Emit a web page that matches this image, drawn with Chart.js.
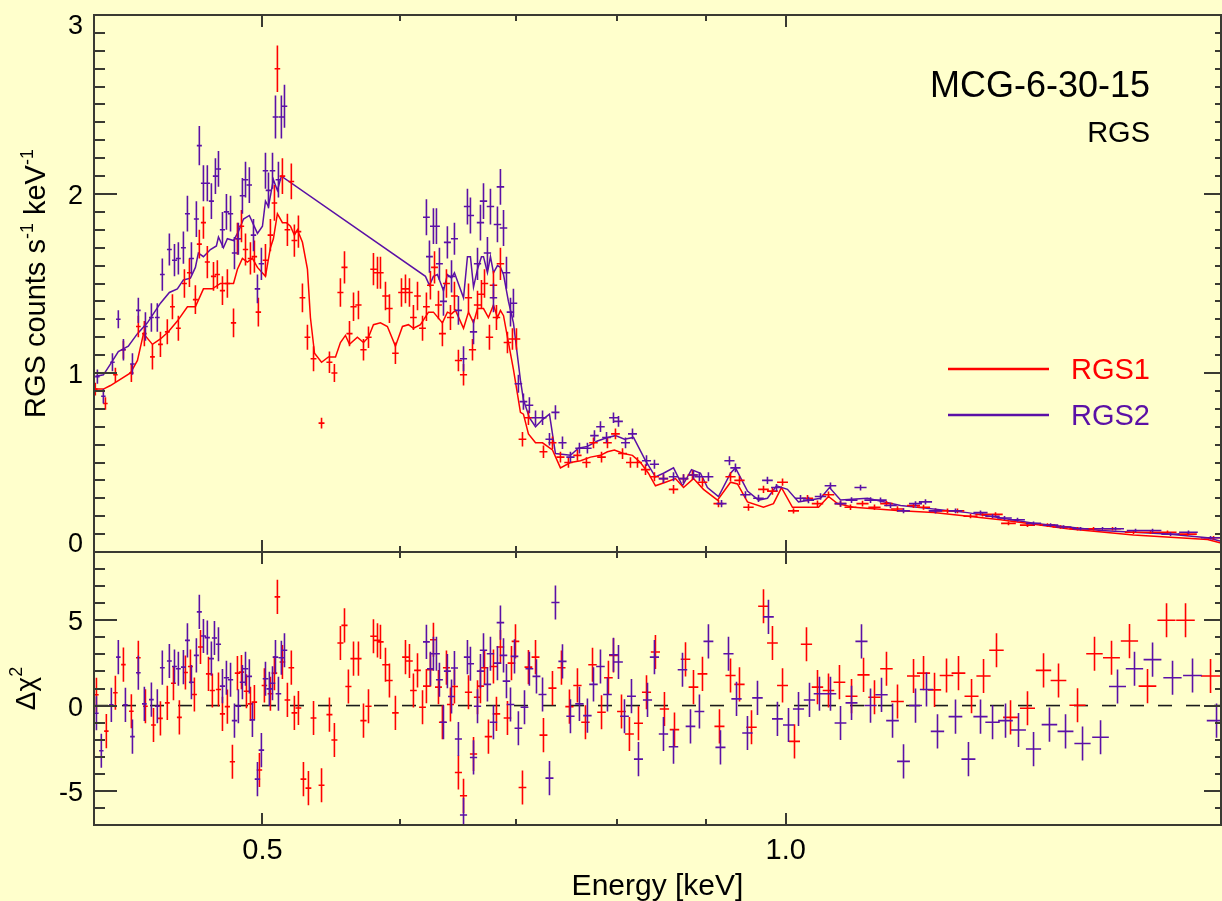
<!DOCTYPE html>
<html><head><meta charset="utf-8">
<script src="https://cdn.jsdelivr.net/npm/chart.js@4.4.1/dist/chart.umd.min.js"></script>
<style>
html,body{margin:0;padding:0;background:#ffffcc;width:1222px;height:901px;overflow:hidden}
canvas{position:absolute;left:0;top:0}
</style></head><body>
<canvas id="top" width="1222" height="901"></canvas>
<canvas id="bot" width="1222" height="901"></canvas>
<script>
// ---------------- data (energy keV, value, 1-sigma error) ----------------
const TITLE = 'MCG-6-30-15';
const SUBTITLE = 'RGS';
const X_MIN = 0.40, X_MAX = 1.78;
const X_MAJOR = [0.5, 1.0];
const X_MINOR = [0.6, 0.7, 0.8, 0.9];
const TOP_Y_LABELS = [0, 1, 2, 3];
const BOT_Y_LABELS = [-5, 0, 5];
const HALF_BIN_A = 0.09;   // half bin width in Angstrom
const HC = 12.398;         // keV*Angstrom
const RESID_ERR = 1;       // residuals are in units of sigma

const RGS1_DATA = [
[0.4007,0.91,0.035],[0.4061,0.83,0.035],[0.4115,0.99,0.04],[0.4159,1.13,0.05],[0.4203,1.00,0.05],
[0.4242,1.26,0.06],[0.4276,1.22,0.07],[0.4322,1.09,0.07],[0.4368,1.16,0.07],[0.4408,1.23,0.07],
[0.4438,1.37,0.07],[0.4473,1.25,0.07],[0.4509,1.50,0.08],[0.4539,1.56,0.08],[0.4575,1.41,0.08],
[0.4599,1.72,0.08],[0.4624,1.84,0.09],[0.4648,1.62,0.09],[0.4686,1.54,0.08],[0.4710,1.55,0.08],
[0.4742,1.46,0.08],[0.4773,1.50,0.08],[0.4812,1.28,0.08],[0.4837,1.75,0.09],[0.4863,1.82,0.09],
[0.4889,1.69,0.09],[0.4921,1.64,0.09],[0.4947,1.65,0.09],[0.4973,1.34,0.08],[0.5020,1.63,0.09],
[0.5053,1.77,0.09],[0.5080,1.95,0.10],[0.5100,2.70,0.13],[0.5134,2.10,0.10],[0.5168,1.80,0.09],
[0.5195,2.07,0.10],[0.5216,1.74,0.09],[0.5244,1.79,0.09],[0.5272,1.42,0.08],[0.5307,1.20,0.07],
[0.5350,1.08,0.07],[0.5407,0.72,0.03],[0.5464,1.06,0.06],[0.5500,1.00,0.05],[0.5544,1.45,0.08],
[0.5574,1.59,0.09],[0.5611,1.22,0.07],[0.5641,1.37,0.08],[0.5678,1.38,0.08],[0.5716,1.13,0.06],
[0.5754,1.20,0.06],[0.5792,1.58,0.09],[0.5823,1.56,0.09],[0.5846,1.56,0.09],[0.5885,1.43,0.08],
[0.5916,1.36,0.08],[0.5963,1.11,0.06],[0.6011,1.45,0.08],[0.6043,1.47,0.08],[0.6075,1.45,0.08],
[0.6107,1.31,0.07],[0.6140,1.43,0.08],[0.6181,1.25,0.07],[0.6213,1.37,0.08],[0.6246,1.49,0.08],
[0.6280,1.59,0.09],[0.6313,1.38,0.08],[0.6346,1.22,0.07],[0.6380,1.50,0.08],[0.6414,1.31,0.07],
[0.6448,1.43,0.08],[0.6482,1.07,0.06],[0.6526,0.99,0.06],[0.6569,1.42,0.08],[0.6604,1.13,0.06],
[0.6648,1.38,0.08],[0.6683,1.44,0.08],[0.6710,1.50,0.08],[0.6754,1.20,0.07],[0.6790,1.49,0.08],
[0.6817,1.31,0.07],[0.6853,1.61,0.09],[0.6917,1.17,0.06],[0.6963,1.19,0.06],[0.7000,1.19,0.06],
[0.7056,0.63,0.04],[0.7112,0.75,0.04],[0.7255,0.56,0.035],[0.7342,0.61,0.035],[0.7420,0.53,0.03],
[0.7499,0.50,0.03],[0.7589,0.54,0.03],[0.7680,0.50,0.03],[0.7752,0.61,0.03],[0.7835,0.53,0.03],
[0.7897,0.61,0.03],[0.7981,0.66,0.03],[0.8056,0.55,0.03],[0.8141,0.50,0.03],[0.8217,0.50,0.03],
[0.8305,0.46,0.03],[0.8404,0.42,0.025],[0.8505,0.41,0.025],[0.8619,0.35,0.025],[0.8734,0.41,0.025],
[0.8838,0.43,0.025],[0.8956,0.39,0.025],[0.9148,0.27,0.02],[0.9295,0.42,0.025],[0.9406,0.40,0.025],
[0.9519,0.25,0.02],[0.9710,0.35,0.02],[0.9826,0.34,0.02],[0.9958,0.39,0.02],[1.0104,0.23,0.015],
[1.0293,0.30,0.018],[1.0430,0.27,0.018],[1.0583,0.32,0.018],[1.0753,0.27,0.017],[1.0896,0.25,0.016],
[1.1071,0.27,0.016],[1.1248,0.25,0.015],[1.1428,0.27,0.015],[1.1596,0.24,0.015],[1.1845,0.26,0.014],
[1.2003,0.25,0.014],[1.2195,0.23,0.013],[1.2390,0.23,0.013],[1.2555,0.23,0.013],[1.2774,0.20,0.012],
[1.2979,0.21,0.012],[1.3204,0.21,0.012],[1.3433,0.16,0.011],[1.3775,0.15,0.011],[1.4145,0.15,0.01],
[1.4391,0.14,0.01],[1.4719,0.13,0.01],[1.5035,0.13,0.01],[1.5418,0.13,0.01],[1.5853,0.11,0.01],
[1.6214,0.11,0.01],[1.6582,0.11,0.01],[1.7028,0.10,0.01],[1.7625,0.08,0.01]
];

const RGS2_DATA = [
[0.4018,0.98,0.04],[0.4050,0.87,0.04],[0.4099,1.06,0.05],[0.4131,1.30,0.05],[0.4159,1.13,0.06],
[0.4209,1.05,0.06],[0.4242,1.35,0.07],[0.4282,1.26,0.08],[0.4316,1.31,0.08],[0.4350,1.31,0.08],
[0.4379,1.55,0.09],[0.4420,1.69,0.09],[0.4450,1.63,0.09],[0.4473,1.64,0.09],[0.4503,1.70,0.09],
[0.4527,1.89,0.10],[0.4551,1.64,0.09],[0.4581,1.86,0.10],[0.4599,2.27,0.11],[0.4624,2.06,0.10],
[0.4648,2.06,0.10],[0.4673,1.96,0.10],[0.4698,2.10,0.10],[0.4717,2.14,0.10],[0.4742,1.80,0.10],
[0.4767,1.90,0.10],[0.4793,1.89,0.10],[0.4818,1.67,0.09],[0.4843,1.75,0.09],[0.4869,1.99,0.10],
[0.4889,2.08,0.10],[0.4914,2.05,0.10],[0.4941,1.77,0.09],[0.4967,1.47,0.08],[0.4993,1.61,0.09],
[0.5020,2.13,0.10],[0.5040,2.02,0.10],[0.5067,2.13,0.10],[0.5087,2.43,0.12],[0.5107,2.08,0.10],
[0.5127,2.43,0.12],[0.5148,2.49,0.12],
[0.6213,1.87,0.10],[0.6238,1.65,0.09],[0.6271,1.82,0.10],[0.6296,1.82,0.10],[0.6321,1.61,0.09],
[0.6355,1.40,0.08],[0.6388,1.73,0.09],[0.6423,1.54,0.09],[0.6448,1.75,0.09],[0.6482,1.35,0.08],
[0.6526,1.08,0.07],[0.6560,1.93,0.10],[0.6586,1.88,0.10],[0.6613,1.23,0.07],[0.6648,1.61,0.09],
[0.6674,1.84,0.10],[0.6701,1.96,0.10],[0.6736,1.67,0.09],[0.6763,1.93,0.10],[0.6790,1.42,0.08],
[0.6826,1.83,0.10],[0.6853,2.04,0.10],[0.6881,1.81,0.10],[0.6908,1.56,0.09],[0.6945,1.34,0.08],
[0.6972,1.39,0.08],[0.7018,0.94,0.05],[0.7065,0.84,0.045],[0.7121,0.82,0.045],[0.7179,0.75,0.04],
[0.7246,0.75,0.04],[0.7313,0.63,0.035],[0.7371,0.78,0.04],[0.7440,0.61,0.035],[0.7519,0.53,0.03],
[0.7609,0.58,0.03],[0.7690,0.58,0.03],[0.7762,0.65,0.03],[0.7824,0.70,0.03],[0.7887,0.64,0.03],
[0.7960,0.75,0.03],[0.8013,0.73,0.03],[0.8088,0.61,0.03],[0.8163,0.66,0.03],[0.8316,0.51,0.03],
[0.8404,0.49,0.025],[0.8505,0.41,0.025],[0.8619,0.42,0.025],[0.8734,0.41,0.025],[0.8850,0.43,0.025],
[0.8920,0.42,0.025],[0.9027,0.42,0.025],[0.9185,0.27,0.02],[0.9282,0.51,0.025],[0.9356,0.47,0.025],
[0.9481,0.32,0.02],[0.9646,0.30,0.02],[0.9761,0.40,0.02],[0.9879,0.36,0.02],[1.0198,0.30,0.018],
[1.0306,0.29,0.018],[1.0472,0.31,0.018],[1.0611,0.37,0.018],[1.0753,0.27,0.017],[1.0911,0.29,0.016],
[1.1042,0.36,0.016],[1.1189,0.29,0.016],[1.1338,0.29,0.015],[1.1489,0.26,0.015],[1.1689,0.23,0.014],
[1.1876,0.27,0.014],[1.2034,0.28,0.014],[1.2195,0.23,0.013],[1.2522,0.23,0.013],[1.2944,0.22,0.012],
[1.3152,0.20,0.012],[1.3362,0.19,0.011],[1.3594,0.18,0.011],[1.3886,0.16,0.011],[1.4202,0.15,0.01],
[1.4449,0.14,0.01],[1.4778,0.13,0.01],[1.5215,0.13,0.01],[1.5479,0.13,0.01],[1.5895,0.12,0.01],
[1.6257,0.12,0.01],[1.6649,0.10,0.01],[1.7050,0.11,0.01],[1.7555,0.08,0.01]
];

const RGS1_MODEL = [
[0.4000,0.91],[0.4050,0.91],[0.4088,0.93],[0.4198,1.00],[0.4237,1.07],[0.4271,1.22],[0.4322,1.16],
[0.4368,1.19],[0.4414,1.23],[0.4467,1.29],[0.4527,1.37],[0.4575,1.37],[0.4624,1.47],[0.4679,1.47],
[0.4729,1.50],[0.4773,1.50],[0.4812,1.50],[0.4837,1.58],[0.4869,1.64],[0.4901,1.62],[0.4934,1.64],
[0.4967,1.59],[0.5020,1.54],[0.5053,1.70],[0.5073,1.75],[0.5100,1.89],[0.5134,1.84],[0.5161,1.84],
[0.5189,1.82],[0.5216,1.77],[0.5237,1.80],[0.5272,1.73],[0.5307,1.58],[0.5328,1.31],[0.5357,1.11],
[0.5407,1.06],[0.5457,1.09],[0.5508,1.09],[0.5544,1.17],[0.5581,1.21],[0.5611,1.16],[0.5670,1.20],
[0.5716,1.17],[0.5754,1.20],[0.5792,1.27],[0.5846,1.28],[0.5900,1.26],[0.5963,1.15],[0.6019,1.26],
[0.6067,1.27],[0.6107,1.25],[0.6164,1.27],[0.6230,1.34],[0.6271,1.34],[0.6346,1.28],[0.6388,1.34],
[0.6423,1.33],[0.6457,1.35],[0.6526,1.25],[0.6569,1.34],[0.6613,1.28],[0.6648,1.36],[0.6701,1.36],
[0.6745,1.31],[0.6790,1.38],[0.6826,1.31],[0.6853,1.35],[0.6881,1.32],[0.6917,1.20],[0.6972,1.02],
[0.7037,0.78],[0.7065,0.77],[0.7112,0.66],[0.7179,0.61],[0.7246,0.61],[0.7342,0.57],[0.7420,0.47],
[0.7519,0.50],[0.7620,0.51],[0.7721,0.53],[0.7824,0.54],[0.7897,0.56],[0.7970,0.57],[0.8066,0.55],
[0.8163,0.54],[0.8250,0.50],[0.8337,0.44],[0.8415,0.37],[0.8528,0.39],[0.8641,0.41],[0.8734,0.36],
[0.8850,0.41],[0.8968,0.35],[0.9136,0.29],[0.9295,0.39],[0.9381,0.38],[0.9506,0.28],[0.9710,0.25],
[0.9839,0.27],[0.9944,0.36],[1.0090,0.25],[1.0293,0.25],[1.0444,0.25],[1.0583,0.31],[1.0710,0.27],
[1.0940,0.25],[1.1643,0.23],[1.2163,0.22],[1.3292,0.18],[1.4525,0.13],[1.5853,0.095],[1.7485,0.07],
[1.7800,0.05]
];

const RGS2_MODEL = [
[0.4007,0.98],[0.4050,0.99],[0.4088,1.05],[0.4131,1.12],[0.4186,1.15],[0.4237,1.22],[0.4293,1.28],
[0.4368,1.39],[0.4420,1.45],[0.4467,1.47],[0.4503,1.52],[0.4545,1.53],[0.4575,1.59],[0.4593,1.67],
[0.4624,1.65],[0.4667,1.69],[0.4704,1.71],[0.4717,1.76],[0.4748,1.70],[0.4773,1.75],[0.4812,1.74],
[0.4843,1.79],[0.4876,1.86],[0.4914,1.88],[0.4967,1.78],[0.5000,1.82],[0.5020,1.96],[0.5040,1.93],
[0.5073,2.08],[0.5100,2.02],[0.5127,2.10],
[0.6205,1.54],[0.6238,1.49],[0.6271,1.54],[0.6304,1.55],[0.6355,1.46],[0.6388,1.55],[0.6423,1.53],
[0.6448,1.56],[0.6526,1.42],[0.6560,1.65],[0.6586,1.65],[0.6613,1.48],[0.6648,1.58],[0.6683,1.65],
[0.6701,1.65],[0.6736,1.56],[0.6763,1.65],[0.6790,1.56],[0.6826,1.60],[0.6853,1.59],[0.6881,1.55],
[0.6926,1.40],[0.6972,1.28],[0.7037,0.96],[0.7065,0.85],[0.7121,0.75],[0.7179,0.70],[0.7246,0.74],
[0.7313,0.77],[0.7371,0.55],[0.7519,0.54],[0.7599,0.58],[0.7690,0.59],[0.7793,0.62],[0.7897,0.64],
[0.7981,0.65],[0.8077,0.63],[0.8174,0.64],[0.8305,0.51],[0.8415,0.42],[0.8505,0.44],[0.8619,0.47],
[0.8722,0.37],[0.8827,0.46],[0.8933,0.44],[0.9015,0.36],[0.9148,0.31],[0.9295,0.44],[0.9356,0.47],
[0.9506,0.34],[0.9646,0.29],[0.9761,0.30],[0.9879,0.37],[1.0023,0.35],[1.0171,0.28],[1.0472,0.30],
[1.0597,0.36],[1.0753,0.29],[1.1144,0.30],[1.1643,0.26],[1.2723,0.22],[1.3886,0.16],[1.5175,0.12],
[1.6583,0.10],[1.7485,0.08],[1.7800,0.06]
];

const RGS1_RESID = [
[0.4013,0.63],[0.4066,-1.5],[0.4115,0.75],[0.4159,2.4],[0.4203,-0.33],[0.4242,2.8],[0.4282,-0.04],
[0.4328,-1.14],[0.4368,-0.75],[0.4408,0.16],[0.4444,1.31],[0.4479,-0.69],[0.4515,1.94],[0.4545,2.29],
[0.4569,0.65],[0.4606,3.43],[0.4655,1.86],[0.4679,0.88],[0.4717,0.94],[0.4742,-0.49],[0.4773,-0.06],
[0.4805,-3.29],[0.4837,1.90],[0.4863,1.96],[0.4895,0.84],[0.4921,0.10],[0.4947,0.20],[0.4980,-3.78],
[0.5013,1.18],[0.5053,0.69],[0.5080,1.90],[0.5100,6.37],[0.5134,2.55],[0.5168,0.33],[0.5195,2.22],
[0.5216,-0.43],[0.5244,-0.14],[0.5279,-4.31],[0.5314,-4.84],[0.5350,-0.73],[0.5407,-4.67],[0.5464,-0.53],
[0.5500,-2.02],[0.5544,3.67],[0.5574,4.70],[0.5603,1.12],[0.5641,2.75],[0.5678,2.75],[0.5716,-0.88],
[0.5754,-0.04],[0.5792,4.06],[0.5823,3.82],[0.5846,3.73],[0.5885,2.39],[0.5916,1.47],[0.5963,-0.43],
[0.6043,2.84],[0.6075,2.61],[0.6107,0.88],[0.6140,2.06],[0.6181,-0.10],[0.6213,1.14],[0.6246,2.10],
[0.6271,3.86],[0.6313,1.08],[0.6346,-0.98],[0.6380,2.22],[0.6414,0.06],[0.6448,1.12],[0.6482,-3.92],
[0.6526,-5.29],[0.6569,0.78],[0.6613,-2.84],[0.6648,0.49],[0.6674,1.14],[0.6710,2.22],[0.6745,-1.82],
[0.6790,2.29],[0.6817,-0.49],[0.6853,3.43],[0.6917,-0.73],[0.6954,2.49],[0.6991,3.76],[0.7056,-4.80],
[0.7112,2.25],[0.7179,2.84],[0.7255,-1.73],[0.7342,1.02],[0.7430,2.22],[0.7509,-0.06],[0.7589,1.18],
[0.7670,-0.98],[0.7742,2.39],[0.7835,-0.39],[0.7907,1.63],[0.7960,2.94],[0.8045,-0.35],[0.8130,-1.67],
[0.8228,-1.04],[0.8316,0.78],[0.8415,3.14],[0.8516,-0.20],[0.8630,-1.41],[0.8757,2.71],[0.8850,1.08],
[0.8956,1.86],[0.9160,-1.22],[0.9295,1.76],[0.9406,1.24],[0.9557,-1.27],[0.9710,5.82],[0.9826,3.67],
[0.9958,1.18],[1.0117,-2.10],[1.0279,3.59],[1.0430,1.08],[1.0583,0.88],[1.0738,1.37],[1.0911,0.55],
[1.1086,1.80],[1.1248,0.49],[1.1428,2.16],[1.1596,0.24],[1.1845,1.73],[1.2003,1.90],[1.2179,0.92],
[1.2374,1.76],[1.2572,1.90],[1.2791,0.55],[1.2996,1.73],[1.3221,3.24],[1.3469,-0.69],[1.3775,-0.16],
[1.4071,2.06],[1.4353,1.47],[1.4719,0.02],[1.5054,3.04],[1.5397,2.80],[1.5768,3.78],[1.6149,1.14],
[1.6561,5.00],[1.6983,5.00],[1.7555,1.73]
];

const RGS2_RESID = [
[0.4013,-0.45],[0.4039,-2.65],[0.4093,0.04],[0.4131,2.84],[0.4170,0.04],[0.4209,-1.82],[0.4242,1.92],
[0.4276,0.10],[0.4316,0.35],[0.4350,-0.04],[0.4379,2.22],[0.4420,2.61],[0.4450,2.29],[0.4473,2.16],
[0.4503,2.25],[0.4527,3.82],[0.4551,1.37],[0.4581,2.94],[0.4599,5.49],[0.4624,4.08],[0.4648,3.98],
[0.4673,2.75],[0.4692,3.96],[0.4717,3.59],[0.4742,1.14],[0.4767,1.63],[0.4793,1.51],[0.4818,-0.88],
[0.4843,-0.04],[0.4869,1.37],[0.4889,2.16],[0.4914,1.71],[0.4934,-0.84],[0.4967,-4.31],[0.4993,-2.61],
[0.5020,1.57],[0.5046,0.98],[0.5067,1.31],[0.5087,2.84],[0.5107,0.69],[0.5127,2.80],[0.5148,3.24],
[0.6213,3.73],[0.6246,2.16],[0.6271,3.04],[0.6296,3.04],[0.6321,1.51],[0.6355,-0.98],[0.6388,2.02],
[0.6423,0.53],[0.6448,2.20],[0.6482,-1.96],[0.6526,-6.41],[0.6560,2.84],[0.6586,2.45],[0.6613,-3.04],
[0.6648,-0.04],[0.6674,2.02],[0.6701,3.24],[0.6736,1.24],[0.6763,3.04],[0.6790,-0.98],[0.6826,2.49],
[0.6853,4.86],[0.6881,2.94],[0.6908,1.43],[0.6945,0.06],[0.6982,2.88],[0.7018,-1.33],[0.7075,-0.10],
[0.7121,2.16],[0.7188,1.71],[0.7246,0.65],[0.7313,-4.25],[0.7371,6.04],[0.7440,2.59],[0.7519,-0.63],
[0.7609,0.10],[0.7690,-0.59],[0.7752,1.24],[0.7824,2.29],[0.7897,0.65],[0.7960,2.98],[0.8013,2.55],
[0.8077,-0.63],[0.8152,0.55],[0.8228,-3.14],[0.8327,0.33],[0.8404,2.84],[0.8505,-1.67],[0.8619,-2.41],
[0.8722,2.10],[0.8815,-1.22],[0.8920,-0.35],[0.9027,3.76],[0.9172,-2.45],[0.9270,3.04],[0.9369,0.39],
[0.9506,-1.61],[0.9633,0.45],[0.9774,5.20],[0.9891,-0.78],[1.0037,-1.14],[1.0171,-0.20],[1.0320,0.33],
[1.0457,0.69],[1.0611,0.69],[1.0753,-1.02],[1.0911,0.16],[1.1056,3.76],[1.1189,0.00],[1.1353,0.63],
[1.1520,-0.88],[1.1689,-3.27],[1.1876,0.00],[1.2050,0.94],[1.2227,-1.51],[1.2522,-0.65],[1.2739,-3.14],
[1.2944,-0.65],[1.3152,-0.98],[1.3380,-0.88],[1.3612,-1.43],[1.3886,-2.55],[1.4182,-1.12],[1.4487,-1.51],
[1.4817,-2.22],[1.5175,-1.86],[1.5520,1.12],[1.5873,2.16],[1.6257,2.69],[1.6693,1.63],[1.7141,1.76],
[1.7695,-0.88]
];

// ---------------- styles ----------------
const FONT = '"Liberation Sans", Arial, Helvetica, sans-serif';
const RED = '#ff0000';
const PURPLE = '#5b10a6';
const AXIS = '#3a3a32';

function pts(rows, errConst) {
  return rows.map(r => ({x: r[0], y: r[1], err: errConst !== undefined ? errConst : r[2]}));
}

const errorBarPlugin = {
  id: 'errbars',
  afterDatasetsDraw(chart) {
    const {ctx, chartArea: a} = chart;
    const xs = chart.scales.x, ys = chart.scales.y;
    ctx.save();
    ctx.beginPath(); ctx.rect(a.left, a.top, a.right - a.left, a.bottom - a.top); ctx.clip();
    chart.data.datasets.forEach(ds => {
      if (!ds.errorBars) return;
      ctx.strokeStyle = ds.borderColor; ctx.lineWidth = 1.6; ctx.lineCap = 'butt';
      ctx.beginPath();
      ds.data.forEach(p => {
        const dE = HALF_BIN_A * p.x * p.x / HC;
        const xc = xs.getPixelForValue(p.x);
        const x0 = xs.getPixelForValue(p.x - dE), x1 = xs.getPixelForValue(p.x + dE);
        const yc = ys.getPixelForValue(p.y);
        const y0 = ys.getPixelForValue(p.y - p.err), y1 = ys.getPixelForValue(p.y + p.err);
        ctx.moveTo(x0, yc); ctx.lineTo(x1, yc);
        ctx.moveTo(xc, y0); ctx.lineTo(xc, y1);
      });
      ctx.stroke();
    });
    ctx.restore();
  }
};

function richRotated(ctx, parts, cx, cy) {
  let total = 0;
  parts.forEach(p => { ctx.font = p.size + 'px ' + FONT; p.w = ctx.measureText(p.t).width; total += p.w; });
  ctx.save();
  ctx.translate(cx, cy); ctx.rotate(-Math.PI / 2);
  ctx.textAlign = 'left'; ctx.textBaseline = 'alphabetic';
  let pos = -total / 2;
  parts.forEach(p => { ctx.font = p.size + 'px ' + FONT; ctx.fillText(p.t, pos, -(p.rise || 0)); pos += p.w; });
  ctx.restore();
}

function makeFrame(cfg) {
  return {
    id: 'frame',
    afterDraw(chart) {
      const {ctx, chartArea: a} = chart;
      const xs = chart.scales.x, ys = chart.scales.y;
      ctx.save();
      ctx.strokeStyle = AXIS; ctx.lineWidth = 2;
      ctx.strokeRect(a.left, a.top, a.right - a.left, a.bottom - a.top);
      ctx.beginPath();
      const n = Math.round((cfg.yMax - cfg.yMin) / cfg.yMinor);
      for (let k = 0; k <= n; k++) {
        const v = cfg.yMin + k * cfg.yMinor;
        const major = Math.abs(v / cfg.yMajor - Math.round(v / cfg.yMajor)) < 1e-6;
        const py = Math.round(ys.getPixelForValue(v));
        ctx.moveTo(a.left, py); ctx.lineTo(a.left + (major ? 23 : 11), py);
        ctx.moveTo(a.right, py); ctx.lineTo(a.right - (major ? 17 : 6), py);
      }
      X_MAJOR.concat(X_MINOR).forEach(v => {
        const len = X_MAJOR.includes(v) ? 12 : 6;
        const px = Math.round(xs.getPixelForValue(v));
        ctx.moveTo(px, a.top); ctx.lineTo(px, a.top + len);
        ctx.moveTo(px, a.bottom); ctx.lineTo(px, a.bottom - len);
      });
      ctx.stroke();
      ctx.fillStyle = '#000';
      ctx.font = '27px ' + FONT; ctx.textAlign = 'right'; ctx.textBaseline = 'alphabetic';
      cfg.yLabels.forEach(v => {
        let by = ys.getPixelForValue(v) + 10;
        by = Math.min(Math.max(by, a.top + 19), a.bottom);
        ctx.fillText(String(v), a.left - 11, by);
      });
      if (cfg.xLabels) {
        ctx.font = '29px ' + FONT; ctx.textAlign = 'center';
        X_MAJOR.forEach(v => ctx.fillText(v.toFixed(1), xs.getPixelForValue(v), a.bottom + 34));
        ctx.font = '30px ' + FONT;
        ctx.fillText('Energy [keV]', (a.left + a.right) / 2, a.bottom + 70);
      }
      richRotated(ctx, cfg.yTitle, cfg.yTitleX, (a.top + a.bottom) / 2);
      if (cfg.annot) cfg.annot(ctx, chart);
      ctx.restore();
    }
  };
}

function topAnnot(ctx, chart) {
  ctx.fillStyle = '#000'; ctx.textAlign = 'right'; ctx.textBaseline = 'alphabetic';
  ctx.font = '36px ' + FONT; ctx.fillText(TITLE, 1150, 97);
  ctx.font = '29px ' + FONT; ctx.fillText(SUBTITLE, 1150, 142);
  const legendItems = chart.data.datasets.filter(d => d.legendLabel);
  legendItems.forEach((d, i) => {
    const y = 369 + i * 46;
    ctx.strokeStyle = d.borderColor; ctx.lineWidth = 2.5;
    ctx.beginPath(); ctx.moveTo(948, y); ctx.lineTo(1049, y); ctx.stroke();
    ctx.fillStyle = d.borderColor; ctx.textAlign = 'left'; ctx.font = '29px ' + FONT;
    ctx.fillText(d.legendLabel, 1071, y + 10);
  });
}

const common = {
  responsive: false, animation: false, devicePixelRatio: 1,
  plugins: {legend: {display: false}, tooltip: {enabled: false}, title: {display: false}},
  elements: {point: {radius: 0, hoverRadius: 0}}
};

new Chart(document.getElementById('bot'), {
  type: 'scatter',
  data: {datasets: [
    {label: 'zero', type: 'line', showLine: true, data: [{x: X_MIN, y: 0}, {x: X_MAX, y: 0}],
     borderColor: '#1a1a1a', borderWidth: 1.6, borderDash: [14, 14], pointRadius: 0},
    {label: 'RGS1', data: pts(RGS1_RESID, RESID_ERR), borderColor: RED, pointRadius: 0, errorBars: true},
    {label: 'RGS2', data: pts(RGS2_RESID, RESID_ERR), borderColor: PURPLE, pointRadius: 0, errorBars: true}
  ]},
  options: Object.assign({}, common, {
    layout: {padding: {left: 94, right: 1, top: 552, bottom: 76}},
    scales: {
      x: {type: 'logarithmic', min: X_MIN, max: X_MAX, display: false},
      y: {type: 'linear', min: -7, max: 9, display: false}
    }
  }),
  plugins: [errorBarPlugin, makeFrame({
    yMin: -7, yMax: 9, yMinor: 1, yMajor: 5, yLabels: BOT_Y_LABELS, xLabels: true,
    yTitleX: 35,
    yTitle: [{t: '\u0394\u03C7', size: 28}, {t: '2', size: 18, rise: 13}]
  })]
});

new Chart(document.getElementById('top'), {
  type: 'scatter',
  data: {datasets: [
    {label: 'RGS1 model', legendLabel: 'RGS1', type: 'line', showLine: true, data: pts(RGS1_MODEL),
     borderColor: RED, borderWidth: 1.5, pointRadius: 0, tension: 0, fill: false},
    {label: 'RGS2 model', legendLabel: 'RGS2', type: 'line', showLine: true, data: pts(RGS2_MODEL),
     borderColor: PURPLE, borderWidth: 1.5, pointRadius: 0, tension: 0, fill: false},
    {label: 'RGS1', data: pts(RGS1_DATA), borderColor: RED, pointRadius: 0, errorBars: true},
    {label: 'RGS2', data: pts(RGS2_DATA), borderColor: PURPLE, pointRadius: 0, errorBars: true}
  ]},
  options: Object.assign({}, common, {
    layout: {padding: {left: 94, right: 1, top: 15, bottom: 349}},
    scales: {
      x: {type: 'logarithmic', min: X_MIN, max: X_MAX, display: false},
      y: {type: 'linear', min: 0, max: 3, display: false}
    }
  }),
  plugins: [errorBarPlugin, makeFrame({
    yMin: 0, yMax: 3, yMinor: 0.1, yMajor: 1, yLabels: TOP_Y_LABELS, xLabels: false,
    yTitleX: 45,
    yTitle: [{t: 'RGS counts s', size: 29}, {t: '-1', size: 18, rise: 12},
             {t: ' keV', size: 29}, {t: '-1', size: 18, rise: 12}],
    annot: topAnnot
  })]
});
</script>
</body></html>
